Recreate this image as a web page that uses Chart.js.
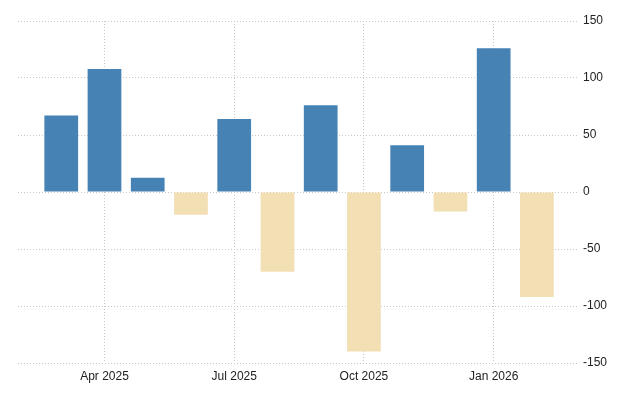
<!DOCTYPE html>
<html lang="en">
<head>
<meta charset="UTF-8">
<title>Monthly change</title>
<script src="https://cdn.jsdelivr.net/npm/chart.js"></script>
<style>
  html, body { margin: 0; padding: 0; background: #fff; }
  #wrap { width: 640px; height: 400px; }
</style>
</head>
<body>
<div id="wrap"><canvas id="grafik" width="640" height="400"></canvas></div>
<script>
// months shown, one bar each
var months = ['Mar 2025', 'Apr 2025', 'May 2025', 'Jun 2025', 'Jul 2025', 'Aug 2025',
              'Sep 2025', 'Oct 2025', 'Nov 2025', 'Dec 2025', 'Jan 2026', 'Feb 2026'];
var values = [67, 108, 12.5, -20, 64, -70, 76, -140, 41, -17, 126, -92];
// which months get a label on the x axis
var tickLabels = ['Apr 2025', 'Jul 2025', 'Oct 2025', 'Jan 2026'];
var yTicks = [-150, -100, -50, 0, 50, 100, 150];

var up = '#4682b4';
var down = '#f3dfb4';
var gridColor = '#c8c8c8';

var points = values.map(function (v, i) { return { x: i, y: v }; });

var ctx = document.getElementById('grafik').getContext('2d');
var grafik = new Chart(ctx, {
    type: 'bar',
    data: {
        datasets: [{
            data: points,
            backgroundColor: values.map(function (v) { return v >= 0 ? up : down; }),
            borderWidth: 0,
            barPercentage: 0.78,
            categoryPercentage: 1
        }]
    },
    options: {
        responsive: false,
        animation: false,
        layout: { padding: { top: 21, left: 18, right: 0, bottom: 0 } },
        plugins: { legend: { display: false }, tooltip: { enabled: false } },
        scales: {
            x: {
                type: 'linear',
                offset: false,
                min: -1,
                max: 11.95,
                afterBuildTicks: function (scale) {
                    scale.ticks = tickLabels.map(function (t) { return { value: months.indexOf(t) }; });
                },
                afterFit: function (scale) { scale.height = 37; },
                ticks: {
                    autoSkip: false,
                    maxRotation: 0,
                    padding: 6,
                    color: '#222',
                    font: { family: '"Liberation Sans", Arial, sans-serif', size: 12 },
                    callback: function (v) { return months[v]; }
                },
                grid: {
                    offset: false,
                    color: gridColor,
                    drawTicks: false
                },
                border: { display: false, dash: [1, 2] }
            },
            y: {
                position: 'right',
                min: -150,
                max: 150,
                afterBuildTicks: function (scale) {
                    scale.ticks = yTicks.map(function (v) { return { value: v }; });
                },
                afterFit: function (scale) { scale.width = 62; },
                ticks: {
                    padding: 5,
                    color: '#222',
                    font: { family: '"Liberation Sans", Arial, sans-serif', size: 12 }
                },
                grid: {
                    color: gridColor,
                    drawTicks: false
                },
                border: { display: false, dash: [1, 2] }
            }
        }
    }
});
</script>
</body>
</html>
